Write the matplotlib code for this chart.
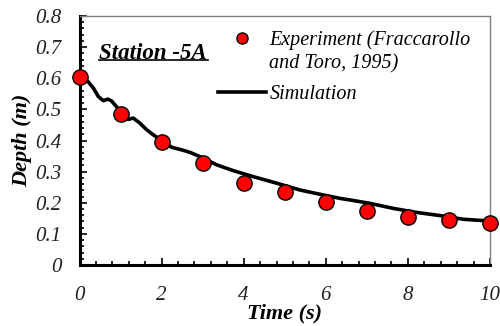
import matplotlib
matplotlib.use('Agg')
import matplotlib.pyplot as plt
from matplotlib.lines import Line2D
from matplotlib.ticker import MultipleLocator, FuncFormatter

# measured depths at station -5A
t_exp = [0, 1, 2, 3, 4, 5, 6, 7, 8, 9, 10]
d_exp = [0.604, 0.486, 0.395, 0.328, 0.264, 0.234, 0.202, 0.175, 0.155, 0.145, 0.134]

# simulated depth history
t_sim = [0.0, 0.1, 0.21, 0.34, 0.46, 0.58, 0.69, 0.78, 0.9, 1.05, 1.19, 1.31, 1.47, 1.64, 1.8,
         2.0, 2.25, 2.49, 2.69, 2.94, 3.02, 3.34, 3.75, 4.23, 4.8, 5.37, 5.94, 6.35, 6.59,
         7.08, 7.64, 8.21, 8.78, 9.35, 9.92, 10.0]
d_sim = [0.600, 0.597, 0.589, 0.568, 0.541, 0.528, 0.533, 0.527, 0.509, 0.485, 0.468, 0.472,
         0.456, 0.434, 0.418, 0.400, 0.378, 0.370, 0.362, 0.348, 0.343, 0.322, 0.303, 0.284,
         0.263, 0.241, 0.225, 0.214, 0.209, 0.198, 0.182, 0.169, 0.159, 0.147, 0.142, 0.142]

serif = ['Liberation Serif', 'DejaVu Serif']
plt.rcParams['font.family'] = serif

fig = plt.figure(figsize=(5.0, 3.26), dpi=100)
ax = fig.add_axes([0.159, 0.187, 0.821, 0.764])

ax.plot(t_sim, d_sim, color='black', lw=2.6, zorder=2)
ax.plot(t_exp, d_exp, 'o', ms=11, mfc='#ff0000', mec='black', mew=1.0, zorder=3, clip_on=False)

ax.set_xlim(0, 10)
ax.set_ylim(0, 0.8)
ax.xaxis.set_major_locator(MultipleLocator(2))
ax.xaxis.set_minor_locator(MultipleLocator(0.4))
ax.yaxis.set_major_locator(MultipleLocator(0.1))
ax.yaxis.set_minor_locator(MultipleLocator(0.02))
ax.yaxis.set_major_formatter(FuncFormatter(lambda v, p: '0' if abs(v) < 1e-9 else f'{v:.1f}'))

ax.tick_params(which='both', direction='in', top=False, right=False, width=1.2, colors='black')
ax.tick_params(which='major', length=5)
ax.tick_params(which='minor', length=3)
ax.tick_params(axis='x', pad=15, labelsize=15)
ax.tick_params(axis='y', pad=13, labelsize=15)
for lab in ax.get_xticklabels() + ax.get_yticklabels():
    lab.set_fontstyle('italic')
    lab.set_color('#222222')

for s in ['left', 'bottom']:
    ax.spines[s].set_linewidth(2.2)
    ax.spines[s].set_color('black')
for s in ['top', 'right']:
    ax.spines[s].set_linewidth(1.0)
    ax.spines[s].set_color('#808080')

ax.set_xlabel('Time (s)', fontsize=16, fontweight='bold', fontstyle='italic', labelpad=-1)
ax.set_ylabel('Depth (m)', fontsize=16, fontweight='bold', fontstyle='italic', labelpad=2)

ax.text(0.0475, 0.851, 'Station -5A', transform=ax.transAxes, fontsize=16.5, fontweight='bold',
        fontstyle='italic', va='center', ha='left')
# underline under station name
ax.plot([0.0475, 0.313], [0.823, 0.823], transform=ax.transAxes, color='black', lw=1.2, clip_on=False)

legend_font = {'family': serif, 'style': 'italic', 'size': 14.5}

exp_handles = [
    Line2D([], [], ls='none', marker='o', ms=8, mfc='#ff0000', mec='black', mew=1.0),
    Line2D([], [], ls='none'),
]
leg1 = ax.legend(exp_handles, ['Experiment (Fraccarollo', 'and Toro, 1995)'], loc='upper left',
                 bbox_to_anchor=(0.313, 0.984), frameon=False, handlelength=2.4,
                 handletextpad=0.15, labelspacing=0.2, borderpad=0, prop=legend_font)
ax.add_artist(leg1)

sim_handle = [Line2D([], [], color='black', lw=2.6)]
ax.legend(sim_handle, ['Simulation'], loc='upper left', bbox_to_anchor=(0.313, 0.762),
          frameon=False, handlelength=2.4, handletextpad=0.15, borderpad=0, prop=legend_font)

fig.savefig('out.png', dpi=100)
